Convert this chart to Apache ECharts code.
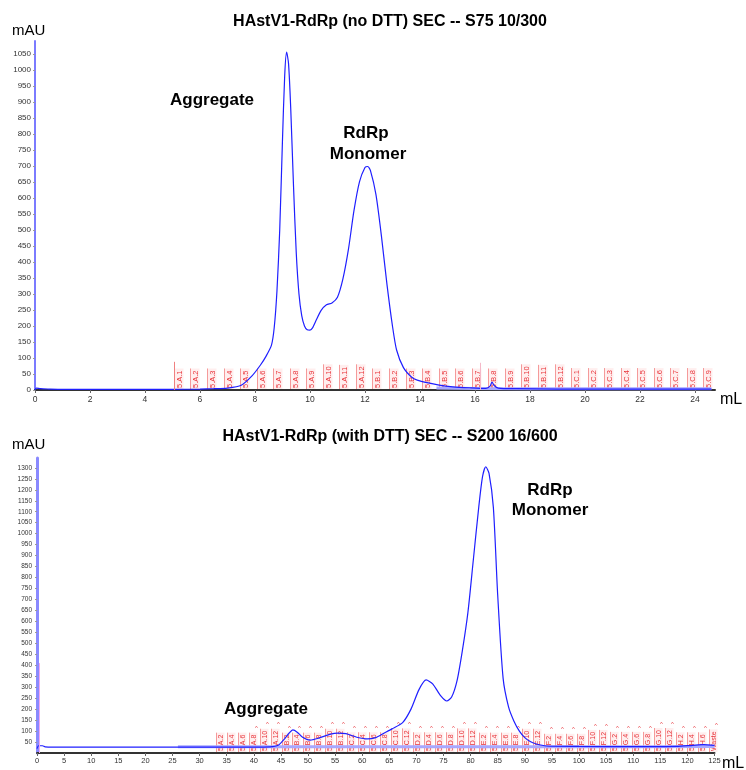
<!DOCTYPE html>
<html>
<head>
<meta charset="utf-8">
<script src="https://cdn.jsdelivr.net/npm/echarts@6/dist/echarts.min.js"></script>
<style>
  html, body { margin: 0; padding: 0; background: #ffffff; }
  #chart { width: 746px; height: 770px; }
</style>
</head>
<body>
<div id="chart"></div>
<script>
// ---- Run 1: S75 10/300, no DTT -------------------------------------------
// elution volume (mL) and UV absorbance (mAU)
const s75Volume = [0, 0.05, 0.2, 0.5, 1, 2, 3, 4, 5, 6, 6.5, 7, 7.5, 7.9, 8.2,
  8.4, 8.6, 8.7, 8.8, 8.9, 9.0, 9.08, 9.15, 9.22, 9.3, 9.4, 9.5, 9.6, 9.7, 9.8,
  9.9, 10.0, 10.1, 10.2, 10.4, 10.6, 10.8, 11.0, 11.2, 11.4, 11.6, 11.8, 12.0,
  12.1, 12.2, 12.4, 12.6, 12.8, 13.0, 13.15, 13.4, 13.7, 13.9, 14.3, 14.7, 15.2,
  15.8, 16.4, 16.55, 16.62, 16.7, 16.85, 17.5, 19, 21, 23, 24.6];
const s75Absorbance = [0, 6, 4, 3, 2, 2, 2, 2, 2, 3, 4, 6, 15, 45, 78,
  105, 140, 195, 310, 500, 780, 980, 1055, 1020, 880, 640, 430, 300, 232, 200,
  188, 187, 195, 213, 248, 266, 272, 290, 348, 440, 560, 650, 695,
  698, 685, 610, 480, 330, 200, 125, 70, 40, 31, 22, 15, 10,
  7, 5, 12, 25, 14, 6, 4, 3, 3, 3, 3];
// second (reference wavelength) trace, flat after the peaks
const s75RefVolume = [14.6, 16, 18, 20, 22, 24.6];
const s75RefAbsorbance = [6, 5, 4, 4, 4, 4];
// collected fractions: start volume (mL) and tube name
const s75FractionStart = [5.05, 5.65, 6.25, 6.86, 7.46, 8.06, 8.66, 9.26, 9.87,
  10.47, 11.07, 11.67, 12.27, 12.88, 13.48, 14.08, 14.68, 15.28, 15.89, 16.49,
  17.09, 17.69, 18.29, 18.90, 19.50, 20.10, 20.70, 21.30, 21.91, 22.51, 23.11,
  23.71, 24.31];
const s75FractionNames = ['5.A.1', '5.A.2', '5.A.3', '5.A.4', '5.A.5', '5.A.6',
  '5.A.7', '5.A.8', '5.A.9', '5.A.10', '5.A.11', '5.A.12', '5.B.1', '5.B.2',
  '5.B.3', '5.B.4', '5.B.5', '5.B.6', '5.B.7', '5.B.8', '5.B.9', '5.B.10',
  '5.B.11', '5.B.12', '5.C.1', '5.C.2', '5.C.3', '5.C.4', '5.C.5', '5.C.6',
  '5.C.7', '5.C.8', '5.C.9'];
// run log events: fractionation start and a logbook mark (mL, marker height mAU)
const s75EventVolume = [5.05, 16.2];
const s75EventHeight = [88, 85];

// ---- Run 2: S200 16/600, with DTT ----------------------------------------
const s200Volume = [0, 0.3, 1, 1.5, 3, 10, 20, 30, 40, 43, 44.5, 45.5, 46.5,
  47.2, 48, 49, 50.4, 52, 54, 55.5, 57, 59, 61, 62.5, 64, 65.5, 67.5, 69, 70.5,
  71.8, 73, 74.5, 75.6, 76.5, 77.5, 78.5, 79.5, 80.5, 81.5, 82.2, 82.8, 83.4,
  84.2, 85, 86, 87, 88, 89, 90, 91, 92, 94, 100, 110, 118, 121, 123, 125];
const s200Absorbance = [20, 33, 33, 28, 27, 27, 27, 27, 27, 28, 35, 60, 90,
  105, 95, 72, 59, 68, 85, 91, 88, 72, 64, 70, 90, 110, 140, 200, 290,
  333, 315, 260, 237, 255, 330, 470, 640, 880, 1120, 1260, 1305, 1275,
  1120, 720, 340, 210, 145, 100, 70, 52, 42, 32, 30, 29, 30, 35, 38, 35];
const s200RefVolume = [26, 40, 60, 90, 110, 125];
const s200RefAbsorbance = [28, 28, 28, 28, 28, 30];
const s200FractionStart = [33.00, 35.02, 37.04, 39.06, 41.08, 43.10, 45.12,
  47.14, 49.16, 51.18, 53.20, 55.22, 57.24, 59.26, 61.28, 63.30, 65.32, 67.34,
  69.36, 71.38, 73.40, 75.42, 77.44, 79.46, 81.48, 83.50, 85.52, 87.54, 89.56,
  91.58, 93.60, 95.62, 97.64, 99.66, 101.68, 103.70, 105.72, 107.74, 109.76,
  111.78, 113.80, 115.82, 117.84, 119.86, 121.88, 123.90];
const s200FractionNames = ['5.A.2', '5.A.4', '5.A.6', '5.A.8', '5.A.10',
  '5.A.12', '5.B.2', '5.B.4', '5.B.6', '5.B.8', '5.B.10', '5.B.12', '5.C.2',
  '5.C.4', '5.C.6', '5.C.8', '5.C.10', '5.C.12', '5.D.2', '5.D.4', '5.D.6',
  '5.D.8', '5.D.10', '5.D.12', '5.E.2', '5.E.4', '5.E.6', '5.E.8', '5.E.10',
  '5.E.12', '5.F.2', '5.F.4', '5.F.6', '5.F.8', '5.F.10', '5.F.12', '5.G.2',
  '5.G.4', '5.G.6', '5.G.8', '5.G.10', '5.G.12', '5.H.2', '5.H.4', '5.H.6',
  'Waste'];
// injection mark
const s200EventVolume = [0.5];
const s200EventHeight = [410];

// ---------------------------------------------------------------------------
const FONT = '"Liberation Sans", Arial, Helvetica, sans-serif';
const measureCtx = document.createElement('canvas').getContext('2d');
function textWidth(str, size) {
  measureCtx.font = size + 'px ' + FONT;
  return measureCtx.measureText(str).width;
}

function zip(xs, ys) { return xs.map((x, i) => [x, ys[i]]); }

// fraction marker: pale box with a red left edge and a vertical tube label
function fractionRenderer(names, fontSize, boxWidth, caretFrom) {
  return function (params, api) {
    const p = api.coord([api.value(0), 0]);
    const name = names[params.dataIndex];
    const h = textWidth(name, fontSize) + 3;
    const x = Math.round(p[0]) + 0.5;
    const y = p[1] - 1;
    const children = [
      { type: 'rect', shape: { x: x, y: y - h, width: boxWidth, height: h },
        style: { fill: 'rgba(255,150,150,0.16)' } },
      { type: 'line', shape: { x1: x, y1: y, x2: x, y2: y - h },
        style: { stroke: '#f59a9a', lineWidth: 1 } },
      { type: 'text', x: x + 1, y: y - 1, rotation: Math.PI / 2,
        style: { text: name, fill: '#e8343a', font: fontSize + 'px ' + FONT,
          align: 'left', verticalAlign: 'top' } }
    ];
    if (caretFrom >= 0 && params.dataIndex >= caretFrom) {
      children.push({ type: 'text', x: x + boxWidth - 1, y: y - h - 1,
        style: { text: '^', fill: '#e8343a', font: '6px ' + FONT,
          align: 'center', verticalAlign: 'bottom' } });
    }
    return { type: 'group', children: children };
  };
}

function eventMarks(vols, heights, colors) {
  return vols.map((v, i) => [
    { coord: [v, 0], lineStyle: { color: colors[i % colors.length] } },
    { coord: [v, heights[i]] }
  ]);
}

const chart = echarts.init(document.getElementById('chart'), null, { renderer: 'canvas' });

const plainNumber = v => String(v);
const axisLabelStyle = { color: '#333', fontFamily: FONT, formatter: plainNumber };

function centeredText(x, y, text, font) {
  return { type: 'text', x: x, y: y, style: { text: text, font: font, fill: '#000',
    textAlign: 'center', textVerticalAlign: 'middle', align: 'center', verticalAlign: 'middle' } };
}
function leftText(x, y, text, font) {
  return { type: 'text', x: x, y: y, style: { text: text, font: font, fill: '#000',
    textVerticalAlign: 'middle', verticalAlign: 'middle' } };
}

const option = {
  animation: false,
  backgroundColor: '#ffffff',
  grid: [
    { left: 35, right: 31, top: 41, bottom: 380, containLabel: false },
    { left: 37, right: 31.5, top: 458, bottom: 17, containLabel: false }
  ],
  xAxis: [
    { gridIndex: 0, type: 'value', min: 0, max: 24.73, interval: 2,
      axisLine: { onZero: false, lineStyle: { color: '#333', width: 2 } },
      axisTick: { show: true, length: 3, lineStyle: { color: '#666' } },
      axisLabel: Object.assign({ fontSize: 8.5, margin: 5, showMaxLabel: false }, axisLabelStyle),
      splitLine: { show: false } },
    { gridIndex: 1, type: 'value', min: 0, max: 125, interval: 5,
      axisLine: { onZero: false, lineStyle: { color: '#333', width: 2 } },
      axisTick: { show: true, length: 3, lineStyle: { color: '#666' } },
      axisLabel: Object.assign({ fontSize: 7.5, margin: 4 }, axisLabelStyle),
      splitLine: { show: false } }
  ],
  yAxis: [
    { gridIndex: 0, type: 'value', min: 0, max: 1090, interval: 50,
      axisLine: { show: true, lineStyle: { color: '#7b7bff', width: 2 } },
      axisTick: { show: true, length: 2, lineStyle: { color: '#999' } },
      axisLabel: Object.assign({ fontSize: 8, margin: 4, showMaxLabel: false }, axisLabelStyle),
      splitLine: { show: false } },
    { gridIndex: 1, type: 'value', min: 0, max: 1345, interval: 50,
      axisLine: { show: true, lineStyle: { color: '#8a8aff', width: 3 } },
      axisTick: { show: true, length: 2, lineStyle: { color: '#999' } },
      axisLabel: Object.assign({ fontSize: 6.5, margin: 5, showMaxLabel: false, showMinLabel: false }, axisLabelStyle),
      splitLine: { show: false } }
  ],
  series: [
    { type: 'custom', xAxisIndex: 0, yAxisIndex: 0, silent: true, z: 1,
      data: s75FractionStart.map(v => [v]),
      renderItem: fractionRenderer(s75FractionNames, 7.5, 9, -1) },
    { type: 'custom', xAxisIndex: 1, yAxisIndex: 1, silent: true, z: 1,
      data: s200FractionStart.map(v => [v]),
      renderItem: fractionRenderer(s200FractionNames, 7, 8, 3) },
    { type: 'line', xAxisIndex: 0, yAxisIndex: 0, z: 2, silent: true,
      data: zip(s75RefVolume, s75RefAbsorbance), showSymbol: false,
      lineStyle: { color: '#a8a8ff', width: 3 } },
    { type: 'line', xAxisIndex: 1, yAxisIndex: 1, z: 2, silent: true,
      data: zip(s200RefVolume, s200RefAbsorbance), showSymbol: false,
      lineStyle: { color: '#a8a8ff', width: 3 } },
    { type: 'line', xAxisIndex: 0, yAxisIndex: 0, z: 3,
      data: zip(s75Volume, s75Absorbance), showSymbol: false, smooth: 0.25,
      lineStyle: { color: '#1f1fff', width: 1.2 },
      markLine: { silent: true, symbol: 'none', label: { show: false },
        lineStyle: { type: 'solid', width: 1 },
        data: eventMarks(s75EventVolume, s75EventHeight, ['#f08080', '#f5b8c8']) } },
    { type: 'line', xAxisIndex: 1, yAxisIndex: 1, z: 3,
      data: zip(s200Volume, s200Absorbance), showSymbol: false, smooth: 0.25,
      lineStyle: { color: '#1f1fff', width: 1.2 },
      markLine: { silent: true, symbol: 'none', label: { show: false },
        lineStyle: { type: 'solid', width: 1 },
        data: eventMarks(s200EventVolume, s200EventHeight, ['#f0a8f0']) } }
  ],
  graphic: [
    centeredText(390, 22, 'HAstV1-RdRp (no DTT) SEC -- S75 10/300', 'bold 16px ' + FONT),
    centeredText(390, 437, 'HAstV1-RdRp (with DTT) SEC -- S200 16/600', 'bold 16px ' + FONT),
    leftText(12, 31, 'mAU', '15px ' + FONT),
    leftText(12, 445, 'mAU', '15px ' + FONT),
    leftText(720, 400, 'mL', '16px ' + FONT),
    leftText(722, 764, 'mL', '16px ' + FONT),
    centeredText(212, 100, 'Aggregate', 'bold 17px ' + FONT),
    centeredText(366, 133, 'RdRp', 'bold 17px ' + FONT),
    centeredText(368, 154, 'Monomer', 'bold 17px ' + FONT),
    centeredText(550, 490, 'RdRp', 'bold 17px ' + FONT),
    centeredText(550, 510, 'Monomer', 'bold 17px ' + FONT),
    centeredText(266, 709, 'Aggregate', 'bold 17px ' + FONT)
  ]
};

chart.setOption(option);
</script>
</body>
</html>
